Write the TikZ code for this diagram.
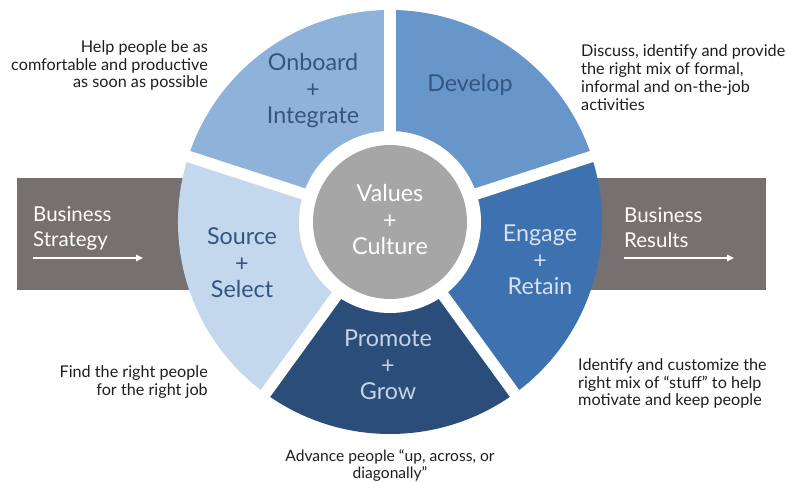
\documentclass[tikz,border=0pt]{standalone}
\usepackage{fontspec}
\setmainfont{Lato}
\usetikzlibrary{arrows.meta}
\definecolor{barc}{HTML}{767170}
\definecolor{onbc}{HTML}{8FB2DA}
\definecolor{devc}{HTML}{6796CA}
\definecolor{engc}{HTML}{3D71AF}
\definecolor{proc}{HTML}{2A4D79}
\definecolor{srcc}{HTML}{C4D8ED}
\definecolor{valc}{HTML}{A6A6A6}
\definecolor{darklbl}{HTML}{34557F}
\definecolor{lightlbl}{HTML}{D6E2F1}
\definecolor{desctext}{HTML}{1E1E1E}
\begin{document}
\begin{tikzpicture}[x=1pt,y=1pt,
  seglabel/.style={align=center, font=\fontsize{23.3}{26.5}\selectfont, inner sep=0},
  desc/.style={font=\fontsize{16.2}{17.8}\selectfont, inner sep=0, text=desctext},
  bartext/.style={font=\fontsize{20.5}{25}\selectfont, text=white, align=left, inner sep=0, anchor=west},
  barrow/.style={white, line width=1.4pt, -{Triangle[length=7pt,width=6.5pt]}}]
\useasboundingbox (0,0) rectangle (786,482);
\coordinate (C) at (390,260);
% grey bars
\fill[barc] (17,192) rectangle (766,304);
% segments
\foreach \a/\col in {18/devc, 90/onbc, 162/srcc, 234/proc, 306/engc}{
  \fill[\col] (C) -- ++(\a:212) arc[start angle=\a, delta angle=72, radius=212] -- cycle;
}
\foreach \a in {18,90,162,234,306}
  \draw[white, line width=11.5pt] (C) -- ++(\a:212.5);
\fill[white] (C) circle[radius=91];
\fill[valc] (C) circle[radius=77];
% segment labels
\node[seglabel, text=darklbl] (onb) at (313,391) {Onboard\\+\\Integrate};
\node[seglabel, text=darklbl] (dev) at (470,397) {Develop};
\node[seglabel, text=darklbl] (src) at (242,219) {Source\\+\\Select};
\node[seglabel, text=white] (val) at (390,262) {Values\\+\\Culture};
\node[seglabel, text=lightlbl] (eng) at (540,222) {Engage\\+\\Retain};
\node[seglabel, text=lightlbl!90!proc] (pro) at (388,117) {Promote\\+\\Grow};
% bar texts and arrows
\node[bartext] (bs) at (33,254) {Business\\Strategy};
\coordinate (bsa1) at (33,224);
\coordinate (bsa2) at (143,224);
\draw[barrow] (bsa1) -- (bsa2);
\node[bartext] (br) at (624,254) {Business\\Results};
\coordinate (bra1) at (624,224);
\coordinate (bra2) at (734,224);
\draw[barrow] (bra1) -- (bra2);
% descriptions
\node[desc, align=right, anchor=east] (d1) at (208,416.5) {Help people be as\\comfortable and productive\\as soon as possible};
\node[desc, align=left, anchor=west] (d2) at (581,404.5) {Discuss, identify and provide\\the right mix of formal,\\informal and on-the-job\\activities};
\node[desc, align=left, anchor=west] (d3) at (578,98.5) {Identify and customize the\\right mix of “stuff” to help\\motivate and keep people};
\node[desc, align=right, anchor=east] (d4) at (208,100) {Find the right people\\for the right job};
\node[desc, align=center, font=\fontsize{15.6}{17}\selectfont] (d5) at (390,16.5) {Advance people “up, across, or\\diagonally”};
\end{tikzpicture}
\end{document}
